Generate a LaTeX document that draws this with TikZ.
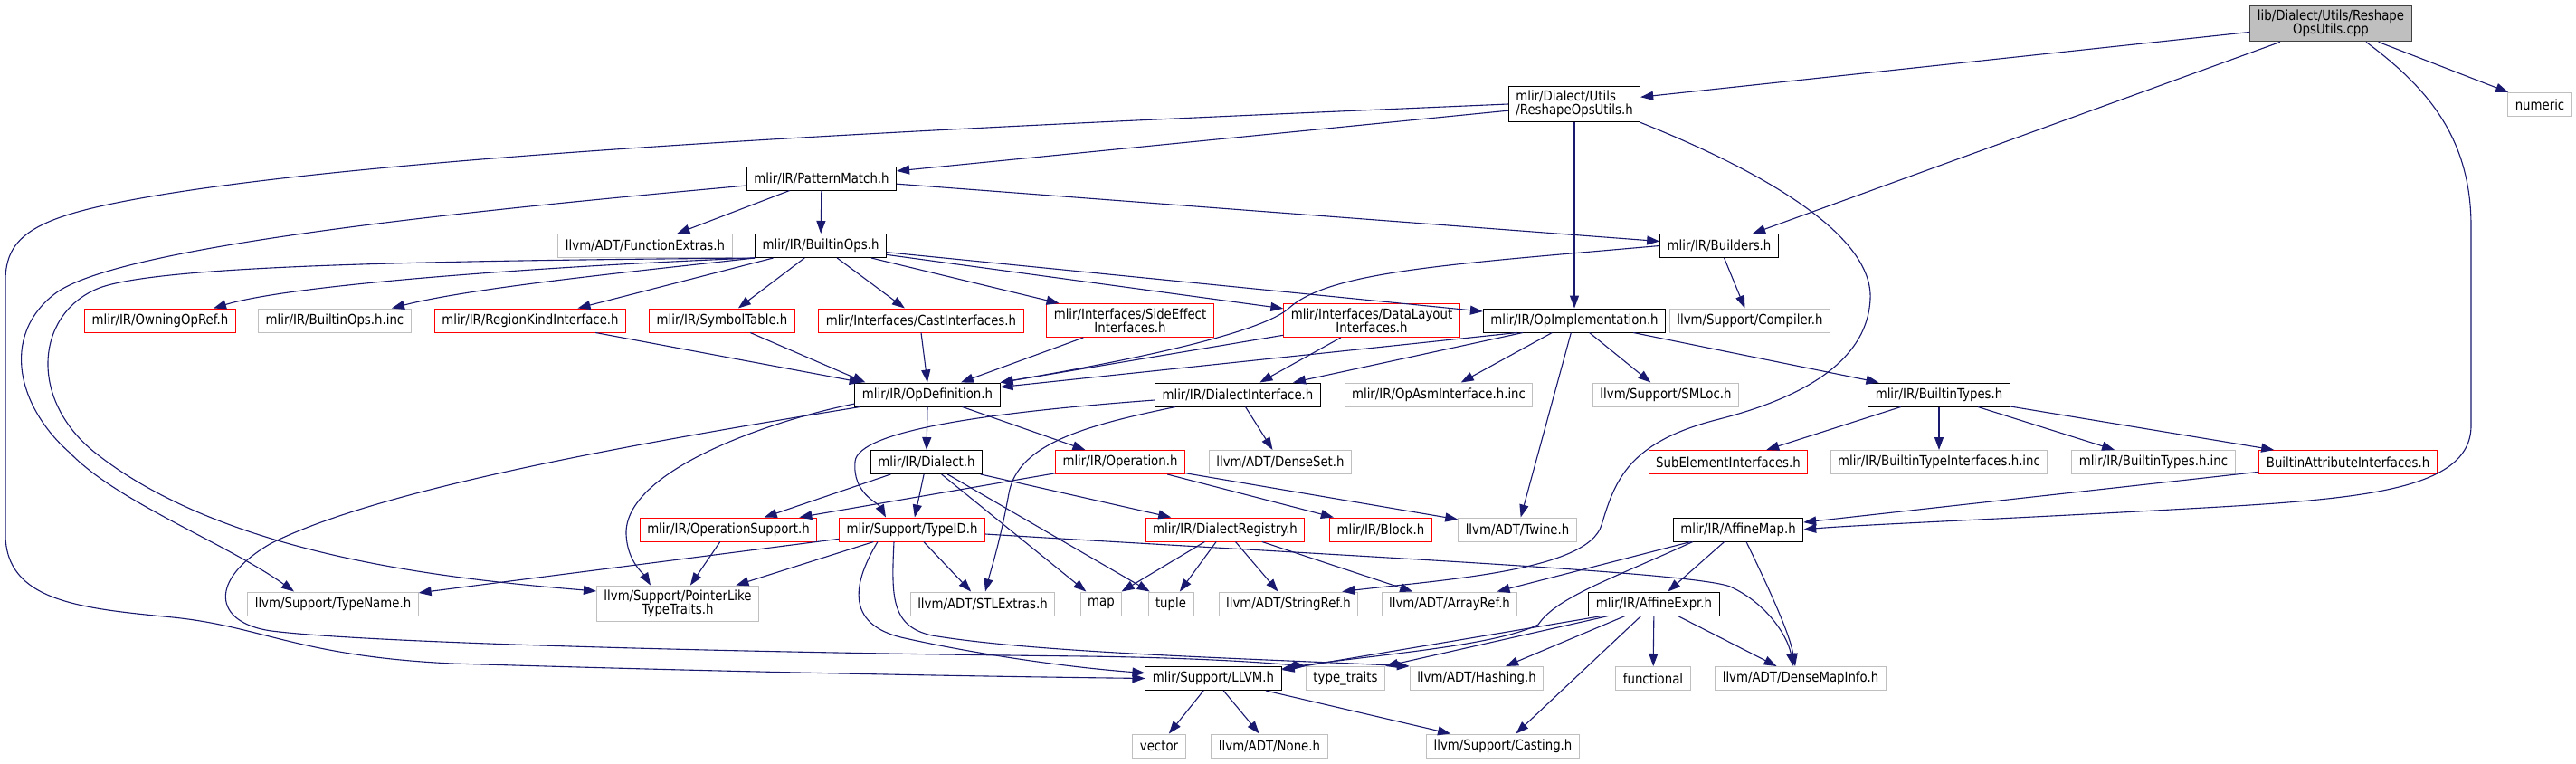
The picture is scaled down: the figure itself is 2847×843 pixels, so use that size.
\documentclass[tikz,border=0pt]{standalone}
\usepackage{fontspec}
\setmainfont{DejaVu Sans}[FakeStretch=0.87]
\usepackage{tikz}
\usetikzlibrary{arrows.meta, calc}
\definecolor{edgeblue}{RGB}{25,25,112}
\definecolor{hdrgray}{RGB}{191,191,191}
\definecolor{rootline}{RGB}{64,64,64}
\definecolor{incred}{RGB}{255,0,0}
\tikzset{
  block/.style={rectangle,draw=black,fill=white,font=\fontsize{15.3}{15}\selectfont,
    inner xsep=8pt,inner ysep=5pt,minimum height=26pt,line width=1pt,align=center},
  redblock/.style={block,draw=incred},
  grayblock/.style={block,draw=hdrgray},
  rootblock/.style={block,draw=rootline,fill=hdrgray},
  arrow/.style={-{Triangle[length=14pt,width=10pt]},line width=1.1pt,color=edgeblue}
}

\begin{document}
\begin{tikzpicture}[x=1pt,y=-1pt]
  \path[use as bounding box,fill=white] (0,0) rectangle (2847,843);

  \node[rootblock] (cpp) at (2576,26) {lib/Dialect/Utils/Reshape\\OpsUtils.cpp};
  \node[grayblock] (numeric) at (2807,115.5) {numeric};
  \node[block, align=left] (rsh) at (1740,115) {mlir/Dialect/Utils\\/ReshapeOpsUtils.h};
  \node[block] (patm) at (908,197) {mlir/IR/PatternMatch.h};
  \node[grayblock] (fnex) at (713,271.5) {llvm/ADT/FunctionExtras.h};
  \node[block] (bops) at (907,271.5) {mlir/IR/BuiltinOps.h};
  \node[block] (bldr) at (1900,271.5) {mlir/IR/Builders.h};

  \node[redblock]  (owning)   at (177,354)  {mlir/IR/OwningOpRef.h};
  \node[grayblock] (bopsinc)  at (370,354)  {mlir/IR/BuiltinOps.h.inc};
  \node[redblock]  (regkind)  at (586,354)  {mlir/IR/RegionKindInterface.h};
  \node[redblock]  (symtab)   at (798,354)  {mlir/IR/SymbolTable.h};
  \node[redblock]  (castif)   at (1018,354) {mlir/Interfaces/CastInterfaces.h};
  \node[redblock]  (sideeff)  at (1249,354) {mlir/Interfaces/SideEffect\\Interfaces.h};
  \node[redblock]  (dlayout)  at (1516,354) {mlir/Interfaces/DataLayout\\Interfaces.h};
  \node[block]     (opimpl)   at (1740,354) {mlir/IR/OpImplementation.h};
  \node[grayblock] (compiler) at (1934,354) {llvm/Support/Compiler.h};

  \node[block]     (opdef)  at (1025,436) {mlir/IR/OpDefinition.h};
  \node[block]     (dialif) at (1368,436) {mlir/IR/DialectInterface.h};
  \node[grayblock] (opasm)  at (1590,436) {mlir/IR/OpAsmInterface.h.inc};
  \node[grayblock] (smloc)  at (1841,436) {llvm/Support/SMLoc.h};
  \node[block]     (btypes) at (2143,436) {mlir/IR/BuiltinTypes.h};

  \node[block]     (dialect)  at (1024,510.5) {mlir/IR/Dialect.h};
  \node[redblock]  (oper)     at (1238,510.5) {mlir/IR/Operation.h};
  \node[grayblock] (denseset) at (1415,510.5) {llvm/ADT/DenseSet.h};
  \node[redblock]  (subel)    at (1910,510.5) {SubElementInterfaces.h};
  \node[grayblock] (btiinc)   at (2143,510.5) {mlir/IR/BuiltinTypeInterfaces.h.inc};
  \node[grayblock] (btinc)    at (2380,510.5) {mlir/IR/BuiltinTypes.h.inc};
  \node[redblock]  (battr)    at (2595,510.5) {BuiltinAttributeInterfaces.h};

  \node[redblock]  (opsup)  at (805,585)  {mlir/IR/OperationSupport.h};
  \node[redblock]  (typeid) at (1008,585) {mlir/Support/TypeID.h};
  \node[redblock]  (dreg)   at (1354,585) {mlir/IR/DialectRegistry.h};
  \node[redblock]  (blk)    at (1526,585) {mlir/IR/Block.h};
  \node[grayblock] (twine)  at (1677,585) {llvm/ADT/Twine.h};
  \node[block]     (amap)   at (1921,585) {mlir/IR/AffineMap.h};

  \node[grayblock] (tname)   at (368,667)  {llvm/Support/TypeName.h};
  \node[grayblock] (ptrlike) at (749,667)  {llvm/Support/PointerLike\\TypeTraits.h};
  \node[grayblock] (stlx)    at (1086,667) {llvm/ADT/STLExtras.h};
  \node[grayblock] (map)     at (1217,667) {map};
  \node[grayblock] (tuple)   at (1294,667) {tuple};
  \node[grayblock] (sref)    at (1424,667) {llvm/ADT/StringRef.h};
  \node[grayblock] (aref)    at (1602,667) {llvm/ADT/ArrayRef.h};
  \node[block]     (aexpr)   at (1828,667) {mlir/IR/AffineExpr.h};

  \node[block]     (llvmh)      at (1341,749.5) {mlir/Support/LLVM.h};
  \node[grayblock] (ttraits)    at (1487,749.5) {type\_traits};
  \node[grayblock] (hashing)    at (1632,749.5) {llvm/ADT/Hashing.h};
  \node[grayblock] (functional) at (1827,749.5) {functional};
  \node[grayblock] (dmi)        at (1990,749.5) {llvm/ADT/DenseMapInfo.h};

  \node[grayblock] (vector)  at (1281,824) {vector};
  \node[grayblock] (none)    at (1403,824) {llvm/ADT/None.h};
  \node[grayblock] (casting) at (1661,824) {llvm/Support/Casting.h};

  \draw[arrow] (cpp) -- (rsh);
  \draw[arrow] (cpp) -- (bldr);
  \draw[arrow] (cpp) -- (numeric);
  \draw[arrow] ($(cpp.south)+(39,0)$) .. controls (2680,95) and (2731,150) .. (2731,250)
    -- (2731,470) .. controls (2731,545) and (2600,552) .. (2400,563)
    .. controls (2200,574) and (2050,580) .. (amap.east);

  \draw[arrow] (rsh) -- (patm);
  \draw[arrow] (rsh) -- (opimpl);
  \draw[arrow] (rsh.west) .. controls (1200,135) and (450,165) .. (150,220)
    .. controls (40,240) and (6,260) .. (6,310) -- (6,590)
    .. controls (6,665) and (90,672) .. (191,682)
    .. controls (290,692) and (330,725) .. (500,733)
    .. controls (900,745) and (1150,748) .. (llvmh.west);
  \draw[arrow] (rsh.south east) .. controls (1950,190) and (2070,260) .. (2067,330)
    .. controls (2064,400) and (1990,440) .. (1900,463)
    .. controls (1800,488) and (1785,530) .. (1770,580)
    .. controls (1755,630) and (1600,640) .. ($(sref.north east)+(-18,0)$);

  \draw[arrow] (patm) -- (fnex);
  \draw[arrow] (patm) -- (bops);
  \draw[arrow] (patm) -- (bldr);
  \draw[arrow] ($(patm.west)+(0,8)$) .. controls (550,230) and (130,270) .. (60,325)
    .. controls (0,372) and (20,450) .. (77,500)
    .. controls (130,555) and (250,600) .. ($(tname.north)+(-43,0)$);

  \draw[arrow] (bops.south west) .. controls (650,292) and (330,312) .. ($(owning.north)+(59,0)$);
  \draw[arrow] (bops.south west) .. controls (700,300) and (520,318) .. ($(bopsinc.north)+(63,0)$);
  \draw[arrow] (bops) -- (regkind);
  \draw[arrow] (bops) -- (symtab);
  \draw[arrow] (bops) -- (castif);
  \draw[arrow] (bops) -- (sideeff);
  \draw[arrow] (bops) -- (dlayout);
  \draw[arrow] (bops) -- (opimpl);
  \draw[arrow] (bops.south west) .. controls (500,288) and (180,292) .. (110,318)
    .. controls (40,345) and (30,440) .. (105,500)
    .. controls (250,615) and (500,640) .. ($(ptrlike.west)+(0,-14)$);

  \draw[arrow] (bldr) -- (compiler);
  \draw[arrow] (bldr.west) .. controls (1600,292) and (1470,300) .. (1425,340)
    .. controls (1395,368) and (1250,398) .. (opdef.north east);

  \draw[arrow] (regkind) -- (opdef);
  \draw[arrow] (symtab) -- ($(opdef.north west)+(12,0)$);
  \draw[arrow] (castif.south) -- (opdef.north);
  \draw[arrow] (sideeff) -- (opdef);
  \draw[arrow] (dlayout) -- (opdef);
  \draw[arrow] (dlayout) -- (dialif);

  \draw[arrow] ($(opimpl.south)+(-63,0)$) -- (opdef);
  \draw[arrow] ($(opimpl.south)+(-57,0)$) -- ($(dialif.north)+(61,0)$);
  \draw[arrow] (opimpl) -- (opasm);
  \draw[arrow] (opimpl) -- (smloc);
  \draw[arrow] (opimpl) -- (twine);
  \draw[arrow] ($(opimpl.south east)+(-36,0)$) -- (btypes);

  \draw[arrow] (btypes) -- (subel);
  \draw[arrow] (btypes) -- (btiinc);
  \draw[arrow] (btypes) -- (btinc);
  \draw[arrow] (btypes) -- (battr);
  \draw[arrow] (battr) -- (amap);

  \draw[arrow] (opdef.south) -- (dialect.north);
  \draw[arrow] (opdef) -- (oper);
  \draw[arrow] ($(opdef.west)+(0,10)$) .. controls (850,465) and (690,520) .. (692,590)
    .. controls (693,620) and (712,635) .. ($(ptrlike.north)+(-30,0)$);
  \draw[arrow] ($(opdef.south west)+(6,0)$) .. controls (700,490) and (420,540) .. (300,600)
    .. controls (230,640) and (235,688) .. (300,697)
    .. controls (420,712) and (900,722) .. (1200,725)
    .. controls (1340,727) and (1410,733) .. (ttraits.north west);

  \draw[arrow] ($(dialif.west)+(0,6)$) .. controls (1100,455) and (948,475) .. (945,510)
    .. controls (942,545) and (970,555) .. ($(typeid.north)+(-29,0)$);
  \draw[arrow] (dialif) -- (denseset);
  \draw[arrow] ($(dialif.south west)+(23,0)$) .. controls (1200,470) and (1125,490) .. (1115,545)
    .. controls (1105,600) and (1095,630) .. ($(stlx.north)+(3,0)$);

  \draw[arrow] (dialect) -- (opsup);
  \draw[arrow] (dialect) -- (typeid);
  \draw[arrow] (dialect) -- (dreg);
  \draw[arrow] (dialect) -- (map);
  \draw[arrow] (dialect) -- (tuple);

  \draw[arrow] (oper) -- (opsup);
  \draw[arrow] (oper) -- (blk);
  \draw[arrow] (oper) -- (twine);

  \draw[arrow] (opsup) -- (ptrlike);

  \draw[arrow] (typeid) -- (tname);
  \draw[arrow] (typeid) -- (ptrlike);
  \draw[arrow] (typeid) -- (stlx);
  \draw[arrow] ($(typeid.south)+(-38,0)$) .. controls (945,640) and (930,690) .. (1000,705)
    .. controls (1090,725) and (1190,738) .. ($(llvmh.west)+(0,-6)$);
  \draw[arrow] ($(typeid.south)+(-20,0)$) .. controls (985,660) and (985,692) .. (1030,702)
    .. controls (1150,722) and (1400,728) .. (hashing.north west);
  \draw[arrow] ($(typeid.east)+(0,5)$) .. controls (1500,615) and (1870,632) .. (1912,648)
    .. controls (1950,665) and (1975,700) .. ($(dmi.north)+(-8,0)$);

  \draw[arrow] (dreg) -- (map);
  \draw[arrow] (dreg) -- (tuple);
  \draw[arrow] (dreg) -- (sref);
  \draw[arrow] (dreg) -- (aref);

  \draw[arrow] (amap) -- (aexpr);
  \draw[arrow] (amap) -- (aref);
  \draw[arrow] ($(amap.south)+(9,0)$) .. controls (1955,650) and (1978,700) .. ($(dmi.north)+(-6,0)$);
  \draw[arrow] ($(amap.south west)+(22,0)$) .. controls (1780,640) and (1720,660) .. (1700,690)
    .. controls (1650,715) and (1500,725) .. ($(llvmh.north east)+(0,3)$);

  \draw[arrow] ($(aexpr.south west)+(15,0)$) -- ($(llvmh.north east)+(0,4)$);
  \draw[arrow] ($(aexpr.south west)+(22,0)$) -- (ttraits.north east);
  \draw[arrow] (aexpr) -- (hashing);
  \draw[arrow] (aexpr) -- (functional);
  \draw[arrow] (aexpr) -- (casting);
  \draw[arrow] (aexpr) -- (dmi);

  \draw[arrow] (llvmh) -- (vector);
  \draw[arrow] (llvmh) -- (none);
  \draw[arrow] (llvmh) -- (casting);
\end{tikzpicture}
\end{document}
